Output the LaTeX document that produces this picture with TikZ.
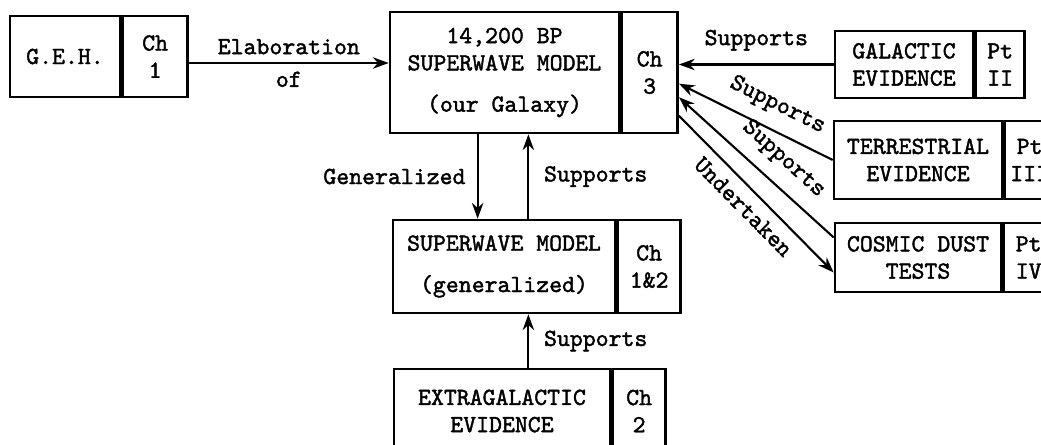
\documentclass[tikz,border=0pt]{standalone}
\usepackage{fontspec}
\newfontfamily\typew[FakeBold=1.6]{lmmono10-regular.otf}
\usepackage{tikz}
\usetikzlibrary{arrows.meta, positioning, calc}
\tikzset{
  box/.style={draw, line width=1.5pt, inner sep=0pt, align=center, font=\typew\fontsize{14}{15.5}\selectfont},
  arr/.style={-{Stealth[length=9pt, width=6.5pt]}, line width=1.2pt},
  lbl/.style={font=\typew\fontsize{14}{15}\selectfont},
}

\begin{document}
\begin{tikzpicture}
  \useasboundingbox (0,0) rectangle (20.82,8.88);

  % --- Left: G.E.H. ---
  \node[box, minimum width=2.2cm, minimum height=1.62cm] (geh) at (1.30,7.75) {G.E.H.};
  \node[box, minimum width=1.3cm, minimum height=1.62cm, right=0pt of geh] (gehch) {Ch\\1};

  % --- Centre: the 14,200 BP model ---
  \node[box, minimum width=4.58cm, minimum height=2.42cm] (model) at (10.09,7.43) {14,200 BP\\SUPERWAVE MODEL\\[8pt](our Galaxy)};
  \node[box, minimum width=1.12cm, minimum height=2.42cm, right=0pt of model] (modelch) {Ch\\3};

  % --- Generalized model ---
  \node[box, minimum width=4.44cm, minimum height=1.86cm] (gen) at (10.08,3.55) {SUPERWAVE MODEL\\[8pt](generalized)};
  \node[box, minimum width=1.26cm, minimum height=1.86cm, right=0pt of gen] (gench) {Ch\\1\&2};

  % --- Extragalactic evidence ---
  \node[box, minimum width=4.32cm, minimum height=1.68cm] (extra) at (10.04,0.66) {EXTRAGALACTIC\\EVIDENCE};
  \node[box, minimum width=1.06cm, minimum height=1.68cm, right=0pt of extra] (extrach) {Ch\\2};

  % --- Right: evidence boxes ---
  \node[box, minimum width=2.76cm, minimum height=1.34cm] (galac) at (18.08,7.59) {GALACTIC\\EVIDENCE};
  \node[box, minimum width=0.98cm, minimum height=1.34cm, right=0pt of galac] (galacpt) {Pt\\II};
  \node[box, minimum width=3.36cm, minimum height=1.56cm] (terr) at (18.36,5.68) {TERRESTRIAL\\EVIDENCE};
  \node[box, minimum width=1.0cm, minimum height=1.56cm, right=0pt of terr] (terrpt) {Pt\\III};
  \node[box, minimum width=3.32cm, minimum height=1.38cm] (dust) at (18.36,3.73) {COSMIC DUST\\TESTS};
  \node[box, minimum width=1.0cm, minimum height=1.38cm, right=0pt of dust] (dustpt) {Pt\\IV};

  % Elaboration
  \draw[arr] ([yshift=-0.13cm]gehch.east) -- ([yshift=-0.13cm]gehch.east -| model.west)
    node[lbl, midway, above=1pt] {Elaboration}
    node[lbl, midway, below=1pt] {of};

  % Links to the right-hand boxes
  \draw[arr] (galac.west) -- (galac.west -| modelch.east)
    node[lbl, midway, above=4pt] {Supports};
  \draw[arr] (terr.west) -- ($(modelch.south east)!.41!(modelch.north east)$)
    node[lbl, pos=.43, above=4pt, sloped] {Supports};
  \draw[arr] ($(dust.south west)!.78!(dust.north west)$) -- ($(modelch.south east)!.30!(modelch.north east)$)
    node[lbl, pos=.43, above=4pt, sloped] {Supports};
  \draw[arr] ($(modelch.south east)!.15!(modelch.north east)$) -- ($(dust.south west)!.29!(dust.north west)$)
    node[lbl, midway, below=2pt, sloped] {Undertaken};

  % Vertical links
  \coordinate (gdown) at ($(model.south west)!.384!(model.south east)$);
  \coordinate (gup) at ($(model.south west)!.603!(model.south east)$);
  \draw[arr] (gdown) -- (gdown |- gen.north)
    node[lbl, midway, left=3pt] {Generalized};
  \draw[arr] (gup |- gen.north) -- (gup)
    node[lbl, midway, right=5pt] {Supports};
  \draw[arr] (gup |- extra.north) -- (gup |- gen.south)
    node[lbl, midway, right=5pt] {Supports};
\end{tikzpicture}
\end{document}
